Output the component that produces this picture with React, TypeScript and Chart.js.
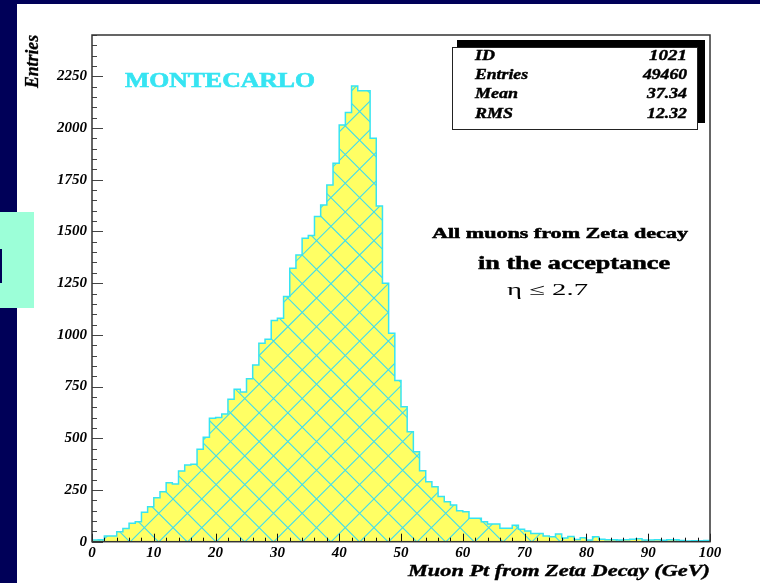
import { useEffect, useRef } from 'react';
import { Chart, registerables } from 'chart.js';

Chart.register(...registerables);

// Muon transverse momentum, 1 GeV bins from 0 to 100 GeV
const ptBinCounts = [
  8, 10, 27, 28, 48, 64, 89, 97, 142, 169,
  213, 242, 285, 279, 342, 371, 375, 447, 505, 597,
  600, 618, 689, 737, 724, 788, 854, 959, 979, 1070,
  1080, 1185, 1322, 1386, 1467, 1480, 1572, 1628, 1725, 1830,
  2015, 2075, 2204, 2180, 2180, 1951, 1623, 1250, 1008, 779,
  653, 532, 435, 343, 290, 266, 218, 193, 177, 150,
  145, 113, 113, 97, 86, 86, 65, 65, 80, 60,
  52, 40, 40, 28, 24, 37, 18, 25, 11, 19,
  8, 24, 12, 10, 10, 8, 9, 12, 14, 8,
  8, 10, 7, 9, 10, 6, 3, 4, 4, 6,
];
const ptMin = 0;
const ptMax = 100;
const entriesMax = 2450;

const statLabels = ['ID', 'Entries', 'Mean', 'RMS'];
const statValues = ['1021', '49460', '37.34', '12.32'];

const sampleTag = 'MONTECARLO';
const noteLines = ['All muons from Zeta decay', 'in the acceptance', 'η ≤ 2.7'];
const xTitle = 'Muon Pt from Zeta Decay (GeV)';
const yTitle = 'Entries';

const SERIF = '"Liberation Serif", "Times New Roman", serif';
const NAVY = '#000058';
const CYAN = '#36e4f2';

// Draws text squeezed/stretched horizontally to a given width
function drawFitted(
  ctx: CanvasRenderingContext2D,
  text: string,
  x: number,
  y: number,
  font: string,
  width: number,
  align: 'left' | 'right' | 'center',
  color: string,
  weight = 0,
) {
  ctx.save();
  ctx.font = font;
  ctx.fillStyle = color;
  ctx.strokeStyle = color;
  ctx.textAlign = 'left';
  ctx.textBaseline = 'alphabetic';
  const w = ctx.measureText(text).width;
  const sx = width / w;
  const x0 = align === 'left' ? x : align === 'right' ? x - width : x - width / 2;
  ctx.translate(x0, y);
  ctx.scale(sx, 1);
  ctx.fillText(text, 0, 0);
  if (weight > 0) {
    ctx.lineWidth = weight;
    ctx.strokeText(text, 0, 0);
  }
  ctx.restore();
}

// Yellow fill with a cyan diamond cross-hatch
function makeHistFill(ctx: CanvasRenderingContext2D, originY: number): CanvasPattern {
  const size = 574;
  const period = 28.7;
  const c = document.createElement('canvas');
  c.width = size;
  c.height = size;
  const g = c.getContext('2d')!;
  g.fillStyle = '#ffff64';
  g.fillRect(0, 0, size, size);
  g.strokeStyle = '#40dcee';
  g.lineWidth = 1.1;
  g.beginPath();
  for (let k = -22; k <= 44; k++) {
    const c0 = k * period;
    g.moveTo(-5, -5 + c0);
    g.lineTo(size + 5, size + 5 + c0);
    g.moveTo(-5, 5 + c0);
    g.lineTo(size + 5, -size - 5 + c0);
  }
  g.stroke();
  const p = ctx.createPattern(c, 'repeat')!;
  p.setTransform(new DOMMatrix().translate(130, Math.round(originY)));
  return p;
}

const pagePlugin = {
  id: 'pageBackground',
  beforeDraw(chart: Chart) {
    const ctx = chart.ctx;
    ctx.save();
    ctx.fillStyle = NAVY;
    ctx.fillRect(0, 0, chart.width, chart.height);
    ctx.fillStyle = '#ffffff';
    ctx.fillRect(17, 4, chart.width - 17, chart.height - 4);
    ctx.fillStyle = '#9cffd8';
    ctx.fillRect(0, 212, 34, 96);
    ctx.fillStyle = NAVY;
    ctx.fillRect(0, 249, 2, 34);
    ctx.restore();
  },
};

const framePlugin = {
  id: 'frameAndNotes',
  afterDraw(chart: Chart) {
    const ctx = chart.ctx;
    const a = chart.chartArea;
    const xs = chart.scales.x;
    const ys = chart.scales.y;
    ctx.save();

    // inward tick marks
    ctx.strokeStyle = '#444';
    ctx.lineWidth = 1;
    ctx.beginPath();
    for (const t of ys.ticks) {
      const py = Math.round(ys.getPixelForValue(t.value)) + 0.5;
      const len = Math.round(t.value) % 250 === 0 ? 11 : 5;
      ctx.moveTo(a.left, py);
      ctx.lineTo(a.left + len, py);
    }
    ctx.stroke();
    ctx.strokeStyle = '#111';
    ctx.beginPath();
    for (const t of xs.ticks) {
      const px = Math.round(xs.getPixelForValue(t.value)) + 0.5;
      const len = Math.round(t.value) % 10 === 0 ? 8 : 4;
      ctx.moveTo(px, a.bottom);
      ctx.lineTo(px, a.bottom - len);
    }
    ctx.stroke();

    // frame
    ctx.strokeStyle = '#333';
    ctx.lineWidth = 1.5;
    ctx.strokeRect(a.left, a.top, a.right - a.left, a.bottom - a.top);

    // statistics box with drop shadow
    ctx.fillStyle = '#000';
    ctx.fillRect(457, 40, 248, 83);
    ctx.fillStyle = '#fff';
    ctx.fillRect(452, 47, 246, 83);
    ctx.strokeStyle = '#222';
    ctx.lineWidth = 1;
    ctx.strokeRect(452.5, 47.5, 245, 82);
    const labelW = [20, 53, 43, 38];
    const valueW = [38, 44, 40, 40];
    statLabels.forEach((s, i) => {
      const by = 60 + i * 19.2;
      drawFitted(ctx, s, 475, by, `italic bold 14px ${SERIF}`, labelW[i], 'left', '#000', 0.4);
      drawFitted(ctx, statValues[i], 687, by, `italic bold 14px ${SERIF}`, valueW[i], 'right', '#000', 0.4);
    });

    // annotations
    drawFitted(ctx, sampleTag, 125, 87, `bold 20px ${SERIF}`, 190, 'left', CYAN, 0.6);
    drawFitted(ctx, noteLines[0], 432, 238, `bold 15px ${SERIF}`, 256, 'left', '#000', 0.5);
    drawFitted(ctx, noteLines[1], 478, 269, `bold 18px ${SERIF}`, 192, 'left', '#000', 0.5);
    drawFitted(ctx, noteLines[2], 507, 295, `16px ${SERIF}`, 81, 'left', '#000');

    // axis titles
    drawFitted(ctx, xTitle, a.right, 575.5, `italic bold 17px ${SERIF}`, 302, 'right', '#000', 0.4);
    ctx.save();
    ctx.translate(38, 61.5);
    ctx.rotate(-Math.PI / 2);
    drawFitted(ctx, yTitle, 0, 0, `italic bold 18px ${SERIF}`, 53, 'center', '#000', 0.3);
    ctx.restore();

    ctx.restore();
  },
};

export default function App() {
  const canvasRef = useRef<HTMLCanvasElement | null>(null);

  useEffect(() => {
    const canvas = canvasRef.current;
    if (!canvas) return;
    const ctx = canvas.getContext('2d')!;
    const plotBottom = 541.7;
    const fill = makeHistFill(ctx, plotBottom);

    const last = ptBinCounts.length - 1;
    const stepPoints = [
      { x: ptMin, y: 0 },
      ...ptBinCounts.map((v, i) => ({ x: ptMin + i, y: v })),
      { x: ptMax, y: ptBinCounts[last] },
      { x: ptMax, y: 0 },
    ];

    const tickFont = { family: SERIF, size: 15, weight: 'bold' as const, style: 'italic' as const };

    const chart = new Chart(ctx, {
      type: 'line',
      data: {
        datasets: [
          {
            data: stepPoints,
            stepped: 'before',
            fill: 'origin',
            backgroundColor: fill,
            borderColor: CYAN,
            borderWidth: 1.5,
            pointRadius: 0,
            tension: 0,
          },
        ],
      },
      options: {
        responsive: false,
        animation: false,
        devicePixelRatio: 1,
        layout: { padding: { left: 0, top: 35, right: 50, bottom: 0 } },
        plugins: { legend: { display: false }, tooltip: { enabled: false } },
        scales: {
          x: {
            type: 'linear',
            min: ptMin,
            max: ptMax,
            grid: { display: false, drawTicks: false },
            border: { display: false },
            ticks: {
              stepSize: 2,
              autoSkip: false,
              maxRotation: 0,
              padding: 2,
              color: '#000',
              font: tickFont,
              callback: (v) => (Math.round(Number(v)) % 10 === 0 ? String(v) : ''),
            },
            afterFit: (s) => {
              s.height = 583 - plotBottom;
            },
          },
          y: {
            type: 'linear',
            min: 0,
            max: entriesMax,
            grid: { display: false, drawTicks: false },
            border: { display: false },
            ticks: {
              stepSize: 50,
              autoSkip: false,
              padding: 5,
              color: '#000',
              font: tickFont,
              callback: (v) => (Math.round(Number(v)) % 250 === 0 ? String(v) : ''),
            },
            afterFit: (s) => {
              s.width = 92;
            },
          },
        },
      },
      plugins: [pagePlugin, framePlugin],
    });

    return () => chart.destroy();
  }, []);

  return (
    <div style={{ position: 'fixed', left: 0, top: 0, width: 760, height: 583 }}>
      <canvas ref={canvasRef} width={760} height={583} style={{ display: 'block' }} />
    </div>
  );
}
